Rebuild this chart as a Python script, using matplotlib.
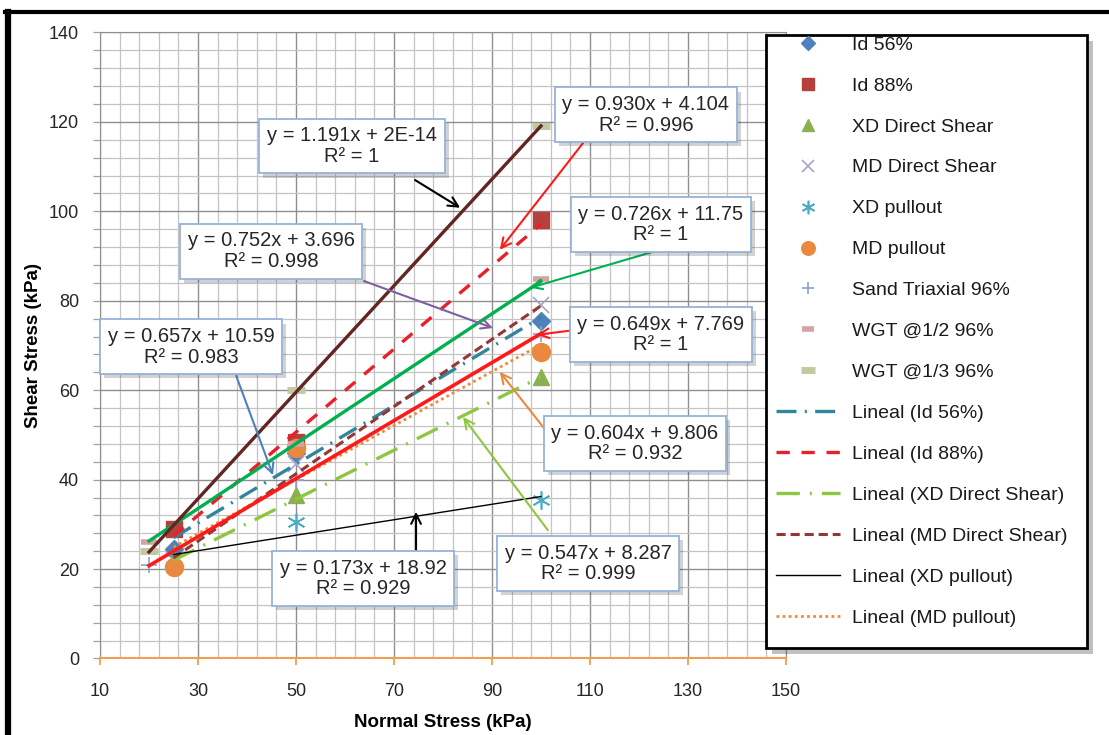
import numpy as np
import matplotlib
matplotlib.use("Agg")
import matplotlib.pyplot as plt
import matplotlib.patheffects as pe
from matplotlib.patches import Rectangle
from matplotlib.lines import Line2D
from matplotlib.ticker import MultipleLocator

plt.rcParams['font.family'] = ['Liberation Sans', 'DejaVu Sans']

# --- data (normal stress / shear stress, kPa) ---
x_tests = [25, 50, 100]
x_tri = [20, 50, 100]

id56 = [24.5, 46.0, 75.5]
id88 = [29.0, 48.5, 98.0]
xd_ds = [22.0, 36.5, 63.0]
md_ds = [22.0, 43.5, 79.0]
xd_po = [22.5, 30.5, 35.5]
md_po = [20.5, 47.0, 68.5]
sand_tri = [21.0, 40.0, 72.5]
wgt_12 = [26.0, 48.0, 84.8]
wgt_13 = [24.0, 60.0, 119.0]

# trendline coefficients (slope, intercept, R2) as printed on the chart
fit_id56 = (0.657, 10.59, "0.983")
fit_id88 = (0.930, 4.104, "0.996")
fit_xd_ds = (0.547, 8.287, "0.999")
fit_md_ds = (0.752, 3.696, "0.998")
fit_xd_po = (0.173, 18.92, "0.929")
fit_md_po = (0.604, 9.806, "0.932")
fit_sand = (0.649, 7.769, "1")
fit_wgt12 = (0.726, 11.75, "1")
fit_wgt13 = (1.191, 2e-14, "1")

fig = plt.figure(figsize=(11.09, 7.35), dpi=100)
ax = fig.add_axes([0.0902, 0.1041, 0.6185, 0.8517])

# scatter series
pts = []
pts.append(ax.plot(x_tests, id56, ls='none', marker='D', ms=9, color='#4F81BD', zorder=3, label='Id 56%')[0])
pts.append(ax.plot(x_tests, id88, ls='none', marker='s', ms=11, color='#B5403D', zorder=3, label='Id 88%')[0])
pts.append(ax.plot(x_tests, xd_ds, ls='none', marker='^', ms=12, color='#8BB04F', zorder=3, label='XD Direct Shear')[0])
pts.append(ax.plot(x_tests, md_ds, ls='none', marker='x', ms=12, mew=1.2, color='#A9A3C8', zorder=3, label='MD Direct Shear')[0])
pts.append(ax.plot(x_tests, xd_po, ls='none', marker=(6, 2, 0), ms=13, mew=1.2, color='#4BACC6', zorder=3, label='XD pullout')[0])
pts.append(ax.plot(x_tests, md_po, ls='none', marker='o', ms=13, color='#E8893F', zorder=3, label='MD pullout')[0])
pts.append(ax.plot(x_tri, sand_tri, ls='none', marker='+', ms=12, mew=1.2, color='#8EA3CC', zorder=3, label='Sand Triaxial 96%')[0])
pts.append(ax.plot(x_tri, wgt_12, ls='none', marker='_', ms=11, mew=4, color='#D4A3A3', zorder=3, label='WGT @1/2 96%')[0])
pts.append(ax.plot(x_tri, wgt_13, ls='none', marker='_', ms=13, mew=5, color='#C2C9A2', zorder=3, label='WGT @1/3 96%')[0])


def trend(xs, fit, **kw):
    xx = np.array([min(xs), max(xs)], dtype=float)
    return ax.plot(xx, fit[0] * xx + fit[1], zorder=4, **kw)[0]


lines = []
lines.append(trend(x_tests, fit_id56, color='#31859C', lw=2.4, ls=(0, (6, 2.5, 0.6, 2.5)), label='Lineal (Id 56%)'))
lines.append(trend(x_tests, fit_id88, color='#E8202A', lw=2.4, ls=(0, (4, 3.5)), label='Lineal (Id 88%)'))
lines.append(trend(x_tests, fit_xd_ds, color='#8DC63F', lw=2.4, ls=(0, (7, 3, 0.6, 3)), label='Lineal (XD Direct Shear)'))
lines.append(trend(x_tests, fit_md_ds, color='#953735', lw=2.2, ls=(0, (3, 1.6)), label='Lineal (MD Direct Shear)'))
lines.append(trend(x_tests, fit_xd_po, color='black', lw=1.0, ls='-', label='Lineal (XD pullout)'))
lines.append(trend(x_tests, fit_md_po, color='#F08A3A', lw=2.0, ls=(0, (1, 1.2)), label='Lineal (MD pullout)'))
trend(x_tri, fit_sand, color='#FF1A1A', lw=2.6, ls='-')
trend(x_tri, fit_wgt12, color='#00B050', lw=2.4, ls='-')
trend(x_tri, fit_wgt13, color='#632523', lw=2.4, ls='-')

# axes, grid
ax.set_xlim(10, 150)
ax.set_ylim(0, 140)
ax.yaxis.set_major_locator(MultipleLocator(20))
ax.yaxis.set_minor_locator(MultipleLocator(4))
ax.set_xticks(np.arange(10, 151, 20))
ax.set_xticks(np.arange(10, 151, 4), minor=True)
ax.grid(which='minor', color='#C4C4C4', lw=0.9, zorder=0)
ax.grid(which='major', color='#8F8F8F', lw=1.0, zorder=0)
ax.set_axisbelow(True)

ax.tick_params(axis='x', which='major', length=5, color='#F0A050', width=1.3,
               labelsize=13, pad=13, labelcolor='#262626')
ax.tick_params(axis='x', which='minor', length=0)
ax.tick_params(axis='y', which='both', length=5, color='#A0A0A0', width=0.9,
               labelsize=13, pad=10, labelcolor='#262626')

for s in ['left', 'right', 'top']:
    ax.spines[s].set_color('#8F8F8F')
ax.spines['bottom'].set_color('#F0A050')
ax.spines['bottom'].set_linewidth(1.5)

ax.set_xlabel('Normal Stress (kPa)', fontsize=13.5, fontweight='bold', labelpad=10)
ax.set_ylabel('Shear Stress (kPa)', fontsize=13.5, fontweight='bold', labelpad=5)

# trendline equation boxes: (fit, intercept text, text centre, arrow start, arrow tip, colour)
boxes = [
    (fit_wgt13, "2E-14", (61.4, 114.6), (74.3, 107.0), (83.5, 100.8), 'black'),
    (fit_id88, None, (121.4, 121.6), (108.6, 115.3), (91.6, 91.4), '#FF1A1A'),
    (fit_wgt12, None, (124.5, 97.1), (122.7, 90.9), (97.8, 82.9), '#00B050'),
    (fit_md_ds, None, (44.9, 91.1), (63.9, 84.4), (90.2, 73.9), '#7F5FA0'),
    (fit_id56, None, (28.6, 69.7), (37.8, 63.2), (45.3, 41.0), '#4F81BD'),
    (fit_sand, None, (124.5, 72.5), (107.3, 73.5), (99.2, 72.4), '#FF1A1A'),
    (fit_md_po, None, (119.2, 48.1), (102.2, 49.3), (91.6, 64.1), '#E8893F'),
    (fit_xd_ds, None, (109.6, 21.2), (101.4, 28.7), (84.1, 54.0), '#8DC63F'),
    (fit_xd_po, None, (63.7, 17.9), (74.5, 23.8), (74.5, 32.8), 'black'),
]

for fit, icpt_txt, center, start, tip, col in boxes:
    icpt = icpt_txt if icpt_txt else f"{fit[1]:g}"
    label = f"y = {fit[0]:.3f}x + {icpt}\nR² = {fit[2]}"
    t = ax.text(center[0], center[1], label, ha='center', va='center', fontsize=14.5,
                multialignment='center', color='#262626', zorder=6, linespacing=1.1,
                bbox=dict(boxstyle='square,pad=0.38', fc='white', ec='#95B3D7', lw=1.3))
    t.get_bbox_patch().set_path_effects([pe.SimplePatchShadow(offset=(3, -3), alpha=0.25),
                                         pe.Normal()])
    ax.annotate('', xy=tip, xytext=start, zorder=5,
                arrowprops=dict(arrowstyle='->,head_length=0.7,head_width=0.35',
                                color=col, lw=1.5, shrinkA=0, shrinkB=0))

# legend frame + legend
frame = Rectangle((766 / 1109, 1 - 648 / 735), (1087 - 766) / 1109, (648 - 35) / 735,
                  transform=fig.transFigure, fc='white', ec='black', lw=2, zorder=2)
frame.set_path_effects([pe.SimplePatchShadow(offset=(4, -4), alpha=0.35), pe.Normal()])
fig.add_artist(frame)

leg = fig.legend(handles=pts + lines, loc='upper left', bbox_to_anchor=(776 / 1109, 1 - 36 / 735),
                 frameon=False, fontsize=14, markerscale=0.75, handlelength=3.3,
                 handletextpad=0.62, labelspacing=1.2, borderpad=0, borderaxespad=0)
leg.set_zorder(3)
for txt in leg.get_texts():
    txt.set_color('#1A1A1A')

# outer border of the pasted chart
fig.add_artist(Line2D([5 / 1109, 1], [1 - 12 / 735, 1 - 12 / 735], transform=fig.transFigure,
                      color='black', lw=3))
fig.add_artist(Line2D([8 / 1109, 8 / 1109], [0, 1 - 12 / 735], transform=fig.transFigure,
                      color='black', lw=4.5))

fig.savefig("out.png", dpi=100)
